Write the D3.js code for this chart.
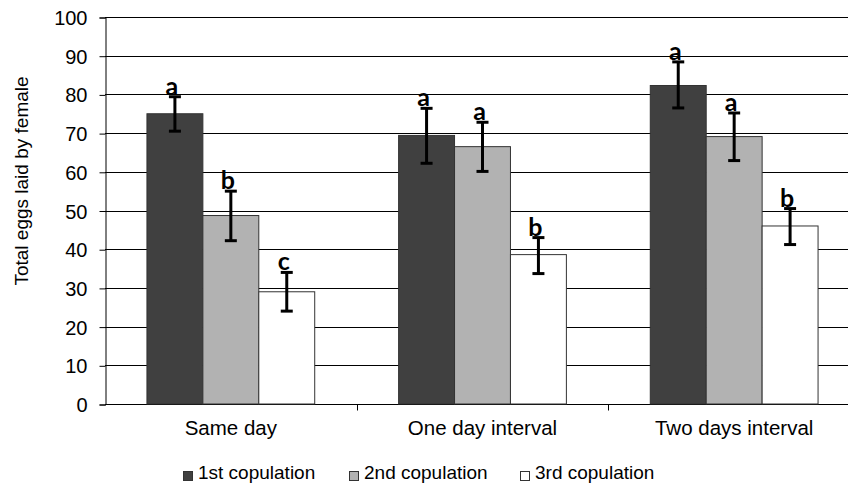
<!DOCTYPE html>
<html>
<head>
<meta charset="utf-8">
<script src="https://cdn.jsdelivr.net/npm/d3@7"></script>
<style>
  body { margin: 0; background: #fff; }
  svg text { font-family: "Liberation Sans", Arial, sans-serif; fill: #000; }
</style>
</head>
<body>
<div id="chart"></div>
<script>
// chart data
let categories = ['Same day', 'One day interval', 'Two days interval'];
let series = ['1st copulation', '2nd copulation', '3rd copulation'];
let means = [
  [75, 48.7, 29],
  [69.4, 66.5, 38.6],
  [82.3, 69.1, 46]
];
let errLow = [
  [70.5, 42.2, 24],
  [62.2, 60.1, 33.7],
  [76.5, 62.9, 41.2]
];
let errHigh = [
  [79.4, 55, 34],
  [76.4, 72.8, 43],
  [88.4, 75.2, 50.5]
];
let letters = [
  ['a', 'b', 'c'],
  ['a', 'a', 'b'],
  ['a', 'a', 'b']
];
let yTicks = [0, 10, 20, 30, 40, 50, 60, 70, 80, 90, 100];

let COLORS = ['#404040', '#b2b2b2', '#ffffff'];

let width = 848, height = 489;
let plotLeft = 105, plotTop = 17, plotBottom = 404, plotRight = 860;

let svg = d3.select('#chart').append('svg')
  .attr('width', width)
  .attr('height', height);

let x = d3.scaleBand().domain(categories).range([plotLeft, plotRight]).paddingInner(0).paddingOuter(0);
let inner = d3.scaleBand().domain(series).range([0, x.bandwidth()]).paddingInner(0).paddingOuter(0.75);
let y = d3.scaleLinear().domain([0, 100]).range([plotBottom, plotTop]);

// gridlines
svg.append('g')
  .selectAll('line')
  .data(yTicks.filter(d => d > 0))
  .enter().append('line')
    .attr('x1', plotLeft).attr('x2', width)
    .attr('y1', d => Math.round(y(d)) + 0.5)
    .attr('y2', d => Math.round(y(d)) + 0.5)
    .attr('stroke', '#000')
    .attr('stroke-width', 1);

// y axis
let yAxis = svg.append('g')
  .attr('transform', 'translate(' + (plotLeft + 0.5) + ',0.5)')
  .call(d3.axisLeft(y).tickValues(yTicks).tickSize(6).tickPadding(12));
yAxis.selectAll('text').style('font-size', '20px').attr('dy', '0.35em');
yAxis.selectAll('line').attr('stroke', '#000');
yAxis.select('.domain').attr('stroke', '#000');

// x axis
let xAxis = svg.append('g')
  .attr('transform', 'translate(0,' + (Math.round(plotBottom) + 0.5) + ')')
  .call(d3.axisBottom(x).tickSize(0).tickPadding(16));
xAxis.selectAll('text').style('font-size', '20.5px');
xAxis.select('.domain').attr('d', 'M' + plotLeft + ',0H' + width).attr('stroke', '#000');
xAxis.selectAll('.sep')
  .data(categories.slice(1))
  .enter().append('line')
    .attr('class', 'sep')
    .attr('x1', d => Math.round(x(d)) + 0.5)
    .attr('x2', d => Math.round(x(d)) + 0.5)
    .attr('y1', 0).attr('y2', 6)
    .attr('stroke', '#000');

// bars
let groups = svg.append('g')
  .selectAll('g')
  .data(categories)
  .enter().append('g')
    .attr('transform', d => 'translate(' + x(d) + ',0)');

groups.each(function (cat, ci) {
  let g = d3.select(this);
  series.forEach(function (s, si) {
    let bx = inner(s);
    let bw = inner.bandwidth();
    g.append('rect')
      .attr('x', bx)
      .attr('y', y(means[ci][si]))
      .attr('width', bw)
      .attr('height', y(0) - y(means[ci][si]))
      .attr('fill', COLORS[si])
      .attr('stroke', '#333')
      .attr('stroke-width', 1);

    let cx = bx + bw / 2;
    // error bar
    g.append('line')
      .attr('x1', cx).attr('x2', cx)
      .attr('y1', y(errHigh[ci][si])).attr('y2', y(errLow[ci][si]))
      .attr('stroke', '#000').attr('stroke-width', 3);
    [errHigh[ci][si], errLow[ci][si]].forEach(function (v) {
      g.append('line')
        .attr('x1', cx - 6).attr('x2', cx + 6)
        .attr('y1', y(v)).attr('y2', y(v))
        .attr('stroke', '#000').attr('stroke-width', 3);
    });

    // significance letter
    g.append('text')
      .attr('x', cx - 3)
      .attr('y', y(errHigh[ci][si]) - 2)
      .attr('text-anchor', 'middle')
      .style('font-family', 'Lato, "Open Sans", sans-serif')
      .style('font-weight', 'bold')
      .style('font-size', '25px')
      .text(letters[ci][si]);
  });
});

// y label
svg.append('text')
  .attr('transform', 'translate(28,181) rotate(-90)')
  .attr('text-anchor', 'middle')
  .style('font-size', '19px')
  .text('Total eggs laid by female');

// legend
let legendX = [183, 349, 520];
let legend = svg.append('g')
  .selectAll('g')
  .data(series)
  .enter().append('g')
    .attr('transform', (d, i) => 'translate(' + legendX[i] + ',471)');

legend.append('rect')
  .attr('x', 0.5).attr('y', 0.5)
  .attr('width', 9).attr('height', 9)
  .attr('fill', (d, i) => COLORS[i])
  .attr('stroke', '#333');

legend.append('text')
  .attr('x', 15)
  .attr('y', 8)
  .style('font-size', '19px')
  .text(d => d);
</script>
</body>
</html>
